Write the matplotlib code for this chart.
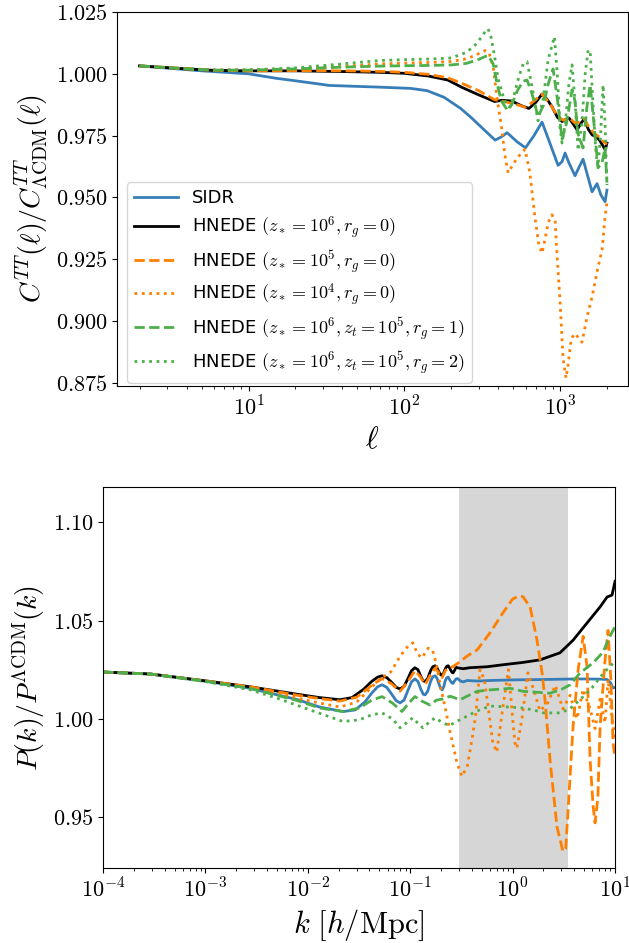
import numpy as np
import matplotlib
matplotlib.use('Agg')
import matplotlib.pyplot as plt
from matplotlib.ticker import FuncFormatter, FixedLocator

plt.rcParams['mathtext.fontset'] = 'cm'
plt.rcParams['font.family'] = ['DejaVu Sans']

# ---------------- top panel: C_l^TT ratio ----------------
ell_sidr = [2, 5, 10, 15, 21, 33, 70, 110, 140, 180, 230, 270, 330, 383, 420, 457, 530,
            600, 680, 766, 860, 971, 1030, 1077, 1140, 1248, 1330, 1405, 1500, 1605,
            1727, 1830, 1945, 2000]
cl_sidr = [1.0032, 1.0012, 1.0000, 0.9982, 0.9970, 0.9953, 0.9946, 0.9941, 0.9932, 0.9905,
           0.9860, 0.9822, 0.9770, 0.9732, 0.9745, 0.9762, 0.9725, 0.9701, 0.9750, 0.9805,
           0.9720, 0.9630, 0.9645, 0.9680, 0.9640, 0.9588, 0.9625, 0.9655, 0.9590, 0.9523,
           0.9556, 0.9510, 0.9483, 0.9530]

ell_h6 = [2, 4, 6, 10, 20, 41, 70, 100, 143, 190, 233, 300, 380, 423, 490, 560, 631, 700,
          766, 830, 888, 960, 1030, 1100, 1143, 1220, 1288, 1360, 1429, 1520, 1607, 1700,
          1786, 1880, 1950, 2000]
cl_h6 = [1.0032, 1.0020, 1.0014, 1.0012, 1.0012, 1.0009, 1.0006, 1.0002, 0.9991, 0.9975,
         0.9946, 0.9915, 0.9888, 0.9893, 0.9890, 0.9872, 0.9860, 0.9885, 0.9918, 0.9895,
         0.9867, 0.9825, 0.9807, 0.9818, 0.9821, 0.9795, 0.9773, 0.9800, 0.9817, 0.9775,
         0.9753, 0.9745, 0.9733, 0.9710, 0.9692, 0.9720]

ell_h5 = [2, 4, 6, 10, 20, 41, 70, 100, 143, 190, 233, 300, 380, 457, 530, 600, 680, 766,
          860, 960, 1050, 1150, 1250, 1340, 1430, 1530, 1650, 1780, 1900, 2000]
cl_h5 = [1.0032, 1.0020, 1.0014, 1.0012, 1.0013, 1.0012, 1.0010, 1.0006, 0.9998, 0.9984,
         0.9962, 0.9932, 0.9895, 0.9885, 0.9875, 0.9865, 0.9890, 0.9918, 0.9880, 0.9830,
         0.9812, 0.9822, 0.9800, 0.9805, 0.9818, 0.9785, 0.9760, 0.9745, 0.9725, 0.9715]

ell_h4 = [2, 4, 6, 10, 20, 40, 70, 110, 150, 200, 240, 280, 310, 330, 350, 372, 394, 420,
          445, 464, 490, 530, 596, 640, 690, 730, 766, 800, 840, 888, 930, 960, 1000, 1045,
          1093, 1130, 1180, 1248, 1384, 1490, 1605, 1753, 1860, 1945, 2000]
cl_h4 = [1.0032, 1.0021, 1.0016, 1.0015, 1.0020, 1.0030, 1.0040, 1.0044, 1.0046, 1.0050,
         1.0058, 1.0072, 1.0086, 1.0094, 1.0085, 1.0030, 0.9900, 0.9790, 0.9660, 0.9600,
         0.9625, 0.9660, 0.9695, 0.9600, 0.9420, 0.9310, 0.9275, 0.9330, 0.9400, 0.9430,
         0.9405, 0.9250, 0.9080, 0.8850, 0.8770, 0.8830, 0.8930, 0.8950, 0.8915, 0.9017,
         0.9098, 0.9219, 0.9288, 0.9421, 0.9480]

ell_g1 = [2, 4, 6, 10, 20, 40, 70, 110, 150, 200, 250, 300, 330, 345, 372, 394, 420, 457,
          490, 530, 580, 614, 660, 722, 780, 840, 902, 960, 1030, 1100, 1194, 1248, 1300,
          1405, 1490, 1559, 1650, 1753, 1860, 1945, 2000]
cl_g1 = [1.0032, 1.0020, 1.0015, 1.0015, 1.0020, 1.0027, 1.0031, 1.0033, 1.0034, 1.0036,
         1.0042, 1.0058, 1.0070, 1.0074, 1.0040, 0.9960, 0.9890, 0.9855, 0.9875, 0.9930,
         0.9970, 0.9975, 0.9920, 0.9828, 0.9870, 0.9960, 1.0020, 0.9900, 0.9735, 0.9800,
         0.9935, 0.9890, 0.9760, 0.9700, 0.9870, 0.9955, 0.9800, 0.9620, 0.9640, 0.9700,
         0.9560]

ell_g2 = [2, 4, 6, 10, 20, 40, 70, 110, 150, 200, 246, 280, 310, 330, 345, 360, 380, 400,
          431, 457, 478, 510, 545, 580, 614, 660, 722, 780, 840, 920, 960, 1000, 1030, 1080,
          1140, 1194, 1250, 1305, 1380, 1450, 1510, 1559, 1620, 1700, 1753, 1820, 1888,
          1945, 2000]
cl_g2 = [1.0032, 1.0020, 1.0015, 1.0016, 1.0024, 1.0040, 1.0054, 1.0058, 1.0060, 1.0064,
         1.0085, 1.0110, 1.0145, 1.0170, 1.0182, 1.0150, 1.0070, 0.9980, 0.9910, 0.9870,
         0.9865, 0.9920, 0.9990, 1.0040, 1.0049, 0.9950, 0.9810, 0.9900, 1.0060, 1.0150,
         1.0000, 0.9780, 0.9720, 0.9800, 0.9960, 1.0036, 0.9880, 0.9690, 0.9800, 1.0000,
         1.0090, 1.0096, 0.9900, 0.9680, 0.9625, 0.9750, 0.9955, 0.9800, 0.9550]

# ---------------- bottom panel: P(k) ratio ----------------
k_sidr = [1e-4, 2.9e-4, 1.04e-3, 2.73e-3, 7.85e-3, 0.013, 0.0221, 0.029, 0.036, 0.042,
          0.048, 0.0531, 0.059, 0.066, 0.073, 0.0795, 0.087, 0.095, 0.103, 0.111, 0.119,
          0.127, 0.134, 0.14, 0.148, 0.158, 0.166, 0.175, 0.183, 0.19, 0.198, 0.205, 0.213,
          0.22, 0.228, 0.235, 0.245, 0.255, 0.262, 0.27, 0.28, 0.29, 0.31, 0.33, 0.36, 0.45,
          0.6, 1.0, 2.0, 4.26, 7.0, 8.36, 9.0, 9.55, 10]
pk_sidr = [1.0238, 1.0228, 1.0190, 1.0155, 1.0098, 1.0060, 1.0037, 1.0045, 1.0085, 1.0130,
           1.0163, 1.0173, 1.0160, 1.0125, 1.0092, 1.0081, 1.0095, 1.0145, 1.0188, 1.0203,
           1.0190, 1.0150, 1.0125, 1.0122, 1.0140, 1.0190, 1.0214, 1.0219, 1.0205, 1.0180,
           1.0155, 1.0147, 1.0165, 1.0195, 1.0210, 1.0212, 1.0195, 1.0182, 1.0180, 1.0192,
           1.0203, 1.0205, 1.0192, 1.0188, 1.0195, 1.0192, 1.0195, 1.0198, 1.0200, 1.0203,
           1.0202, 1.0200, 1.0185, 1.0157, 1.0160]

k_h6 = [1e-4, 2.9e-4, 1.04e-3, 2.73e-3, 7.85e-3, 0.013, 0.0206, 0.027, 0.035, 0.042, 0.048,
        0.0531, 0.059, 0.066, 0.073, 0.0795, 0.087, 0.095, 0.103, 0.111, 0.119, 0.127, 0.134,
        0.14, 0.148, 0.158, 0.166, 0.175, 0.183, 0.19, 0.198, 0.205, 0.213, 0.22, 0.228,
        0.235, 0.243, 0.25, 0.256, 0.262, 0.27, 0.28, 0.30, 0.33, 0.38, 0.45, 0.562, 0.8,
        1.26, 1.85, 2.9, 3.89, 5.33, 7.15, 8.36, 9.35, 10]
pk_h6 = [1.0238, 1.0228, 1.0192, 1.0163, 1.0125, 1.0108, 1.0097, 1.0108, 1.0150, 1.0190,
         1.0212, 1.0219, 1.0210, 1.0185, 1.0160, 1.0152, 1.0165, 1.0205, 1.0245, 1.0260,
         1.0250, 1.0215, 1.0193, 1.0190, 1.0205, 1.0245, 1.0265, 1.0270, 1.0258, 1.0240,
         1.0225, 1.0220, 1.0235, 1.0255, 1.0268, 1.0270, 1.0258, 1.0245, 1.0236, 1.0234,
         1.0245, 1.0262, 1.0258, 1.0255, 1.0260, 1.0262, 1.0265, 1.0275, 1.0287, 1.0300,
         1.0336, 1.0400, 1.0488, 1.0570, 1.0620, 1.0630, 1.0700]

k_h5 = [1e-4, 2.9e-4, 1.04e-3, 2.73e-3, 7.85e-3, 0.013, 0.0206, 0.030, 0.042, 0.0531, 0.065,
        0.0795, 0.095, 0.111, 0.125, 0.14, 0.158, 0.175, 0.19, 0.205, 0.22, 0.235, 0.26,
        0.306, 0.36, 0.449, 0.601, 0.805, 1.0, 1.15, 1.26, 1.48, 1.73, 1.94, 2.07, 2.32,
        2.71, 3.1, 3.3, 3.48, 3.89, 4.36, 4.88, 5.33, 5.71, 6.12, 6.38, 6.8, 7.15, 7.99,
        8.55, 9.1, 9.55, 10]
pk_h5 = [1.0238, 1.0228, 1.0192, 1.0163, 1.0120, 1.0103, 1.0090, 1.0110, 1.0170, 1.0205,
         1.0180, 1.0140, 1.0190, 1.0245, 1.0215, 1.0175, 1.0225, 1.0258, 1.0235, 1.0210,
         1.0245, 1.0260, 1.0265, 1.0290, 1.0320, 1.0350, 1.0437, 1.0540, 1.0610, 1.0625,
         1.0622, 1.0570, 1.0400, 1.0233, 1.0097, 0.9790, 0.9450, 0.9325, 0.9340, 0.9537,
         0.9960, 1.0250, 1.0420, 1.0265, 0.9790, 0.9550, 0.9470, 0.9600, 0.9960, 1.0300,
         1.0450, 1.0200, 0.9880, 0.9800]

k_h4 = [1e-4, 2.9e-4, 1.04e-3, 2.73e-3, 7.85e-3, 0.013, 0.0206, 0.030, 0.040, 0.05, 0.065,
        0.08, 0.095, 0.106, 0.118, 0.13, 0.15, 0.165, 0.18, 0.20, 0.219, 0.246, 0.286, 0.32,
        0.36, 0.40, 0.434, 0.48, 0.53, 0.577, 0.64, 0.70, 0.78, 0.91, 0.99, 1.05, 1.10, 1.24,
        1.41, 1.6, 1.85, 2.2, 2.61, 3.1, 3.64, 4.26, 4.88, 5.71, 6.38, 7.15, 7.99, 8.55,
        9.35, 10]
pk_h4 = [1.0238, 1.0228, 1.0190, 1.0158, 1.0105, 1.0080, 1.0060, 1.0085, 1.0150, 1.0200,
         1.0240, 1.0320, 1.0370, 1.0387, 1.0330, 1.0310, 1.0360, 1.0350, 1.0280, 1.0150,
         1.0060, 0.9929, 0.9776, 0.9707, 0.9756, 0.9893, 1.0010, 1.0250, 1.0200, 1.0060,
         0.9880, 0.9830, 1.0010, 1.0250, 1.0030, 0.9880, 0.9850, 1.0010, 1.0234, 1.0150,
         1.0040, 1.0080, 1.0170, 1.0050, 1.0120, 1.0000, 1.0150, 1.0050, 0.9950, 1.0100,
         0.9980, 1.0200, 1.0000, 0.9900]

k_g1 = [1e-4, 2.9e-4, 1.04e-3, 2.73e-3, 7.85e-3, 0.013, 0.0221, 0.032, 0.042, 0.0531, 0.067,
        0.083, 0.095, 0.111, 0.13, 0.156, 0.18, 0.205, 0.246, 0.306, 0.449, 0.601, 0.95,
        1.26, 1.85, 2.32, 3.0, 3.64, 4.56, 6.12, 7.65, 8.55, 9.55, 10]
pk_g1 = [1.0238, 1.0228, 1.0190, 1.0155, 1.0093, 1.0055, 1.0037, 1.0055, 1.0095, 1.0113,
         1.0080, 1.0037, 1.0075, 1.0113, 1.0090, 1.0070, 1.0095, 1.0100, 1.0115, 1.0097,
         1.0140, 1.0147, 1.0155, 1.0140, 1.0134, 1.0130, 1.0150, 1.0173, 1.0234, 1.0285,
         1.0340, 1.0400, 1.0450, 1.0470]

k_g2 = [1e-4, 2.9e-4, 1.04e-3, 2.73e-3, 5e-3, 0.0105, 0.0221, 0.032, 0.042, 0.0531, 0.067,
        0.0795, 0.095, 0.106, 0.12, 0.133, 0.155, 0.175, 0.20, 0.24, 0.306, 0.45, 0.601,
        0.9, 1.2, 1.6, 2.0, 2.9, 3.6, 4.56, 6.0, 7.65, 9.0, 10]
pk_g2 = [1.0238, 1.0228, 1.0188, 1.0148, 1.0105, 1.0045, 0.9986, 0.9995, 1.0020, 1.0030,
         1.0000, 0.9954, 0.9985, 1.0005, 0.9975, 0.9954, 0.9985, 1.0005, 0.9985, 0.9965,
         0.9995, 1.0040, 1.0065, 1.0060, 1.0056, 1.0045, 1.0030, 1.0030, 1.0050, 1.0097,
         1.0160, 1.0230, 1.0270, 1.0290]

band = (0.3, 3.5)

labels = ['SIDR',
          r'HNEDE $(z_* = 10^6, r_g = 0)$',
          r'HNEDE $(z_* = 10^5, r_g = 0)$',
          r'HNEDE $(z_* = 10^4, r_g = 0)$',
          r'HNEDE $(z_* = 10^6, z_t = 10^5, r_g = 1)$',
          r'HNEDE $(z_* = 10^6, z_t = 10^5, r_g = 2)$']

blue, orange, green = '#377eb8', '#ff7f00', '#4daf4a'
styles = [(blue, '-'), ('k', '-'), (orange, '--'), (orange, ':'), (green, '--'), (green, ':')]

fig = plt.figure(figsize=(6.29, 9.43), dpi=100)
ax1 = fig.add_axes([0.186, 0.5907, 0.8124, 0.3966])
ax2 = fig.add_axes([0.1638, 0.0795, 0.814, 0.404])

top = [(ell_sidr, cl_sidr), (ell_h6, cl_h6), (ell_h5, cl_h5), (ell_h4, cl_h4),
       (ell_g1, cl_g1), (ell_g2, cl_g2)]
for (x, y), (c, ls), lab in zip(top, styles, labels):
    ax1.plot(x, y, color=c, ls=ls, lw=2, label=lab)

ax1.set_xscale('log')
ax1.set_xlim(1.43, 2730)
ax1.set_ylim(0.8738, 1.025)
ax1.yaxis.set_major_locator(FixedLocator([0.875, 0.9, 0.925, 0.95, 0.975, 1.0, 1.025]))
ax1.yaxis.set_major_formatter(FuncFormatter(lambda v, p: r'$%.3f$' % v))
ax1.xaxis.set_major_formatter(FuncFormatter(lambda v, p: r'$10^{%d}$' % round(np.log10(v))))
ax1.set_xlabel(r'$\ell$', fontsize=22)
ax1.set_ylabel(r'$C^{TT}(\ell)/C^{TT}_{\Lambda\mathrm{CDM}}(\ell)$', fontsize=20)
ax1.tick_params(labelsize=16)
ax1.legend(loc='lower left', bbox_to_anchor=(0.02, 0.008), borderaxespad=0,
           fontsize=13, handlelength=2.4, labelspacing=0.38)

bot = [(k_sidr, pk_sidr), (k_h6, pk_h6), (k_h5, pk_h5), (k_h4, pk_h4),
       (k_g1, pk_g1), (k_g2, pk_g2)]
ax2.axvspan(band[0], band[1], color='#d6d6d6', lw=0, zorder=0)
for (x, y), (c, ls) in zip(bot, styles):
    ax2.plot(x, y, color=c, ls=ls, lw=2)

ax2.set_xscale('log')
ax2.set_xlim(1e-4, 10)
ax2.set_ylim(0.924, 1.118)
ax2.yaxis.set_major_locator(FixedLocator([0.95, 1.0, 1.05, 1.10]))
ax2.yaxis.set_major_formatter(FuncFormatter(lambda v, p: r'$%.2f$' % v))
ax2.xaxis.set_major_formatter(FuncFormatter(lambda v, p: r'$10^{%d}$' % round(np.log10(v))))
ax2.set_xlabel(r'$k\ [h/\mathrm{Mpc}]$', fontsize=22)
ax2.set_ylabel(r'$P(k)/P^{\Lambda\mathrm{CDM}}(k)$', fontsize=20)
ax2.tick_params(labelsize=16)

fig.savefig('out.png', dpi=100)
